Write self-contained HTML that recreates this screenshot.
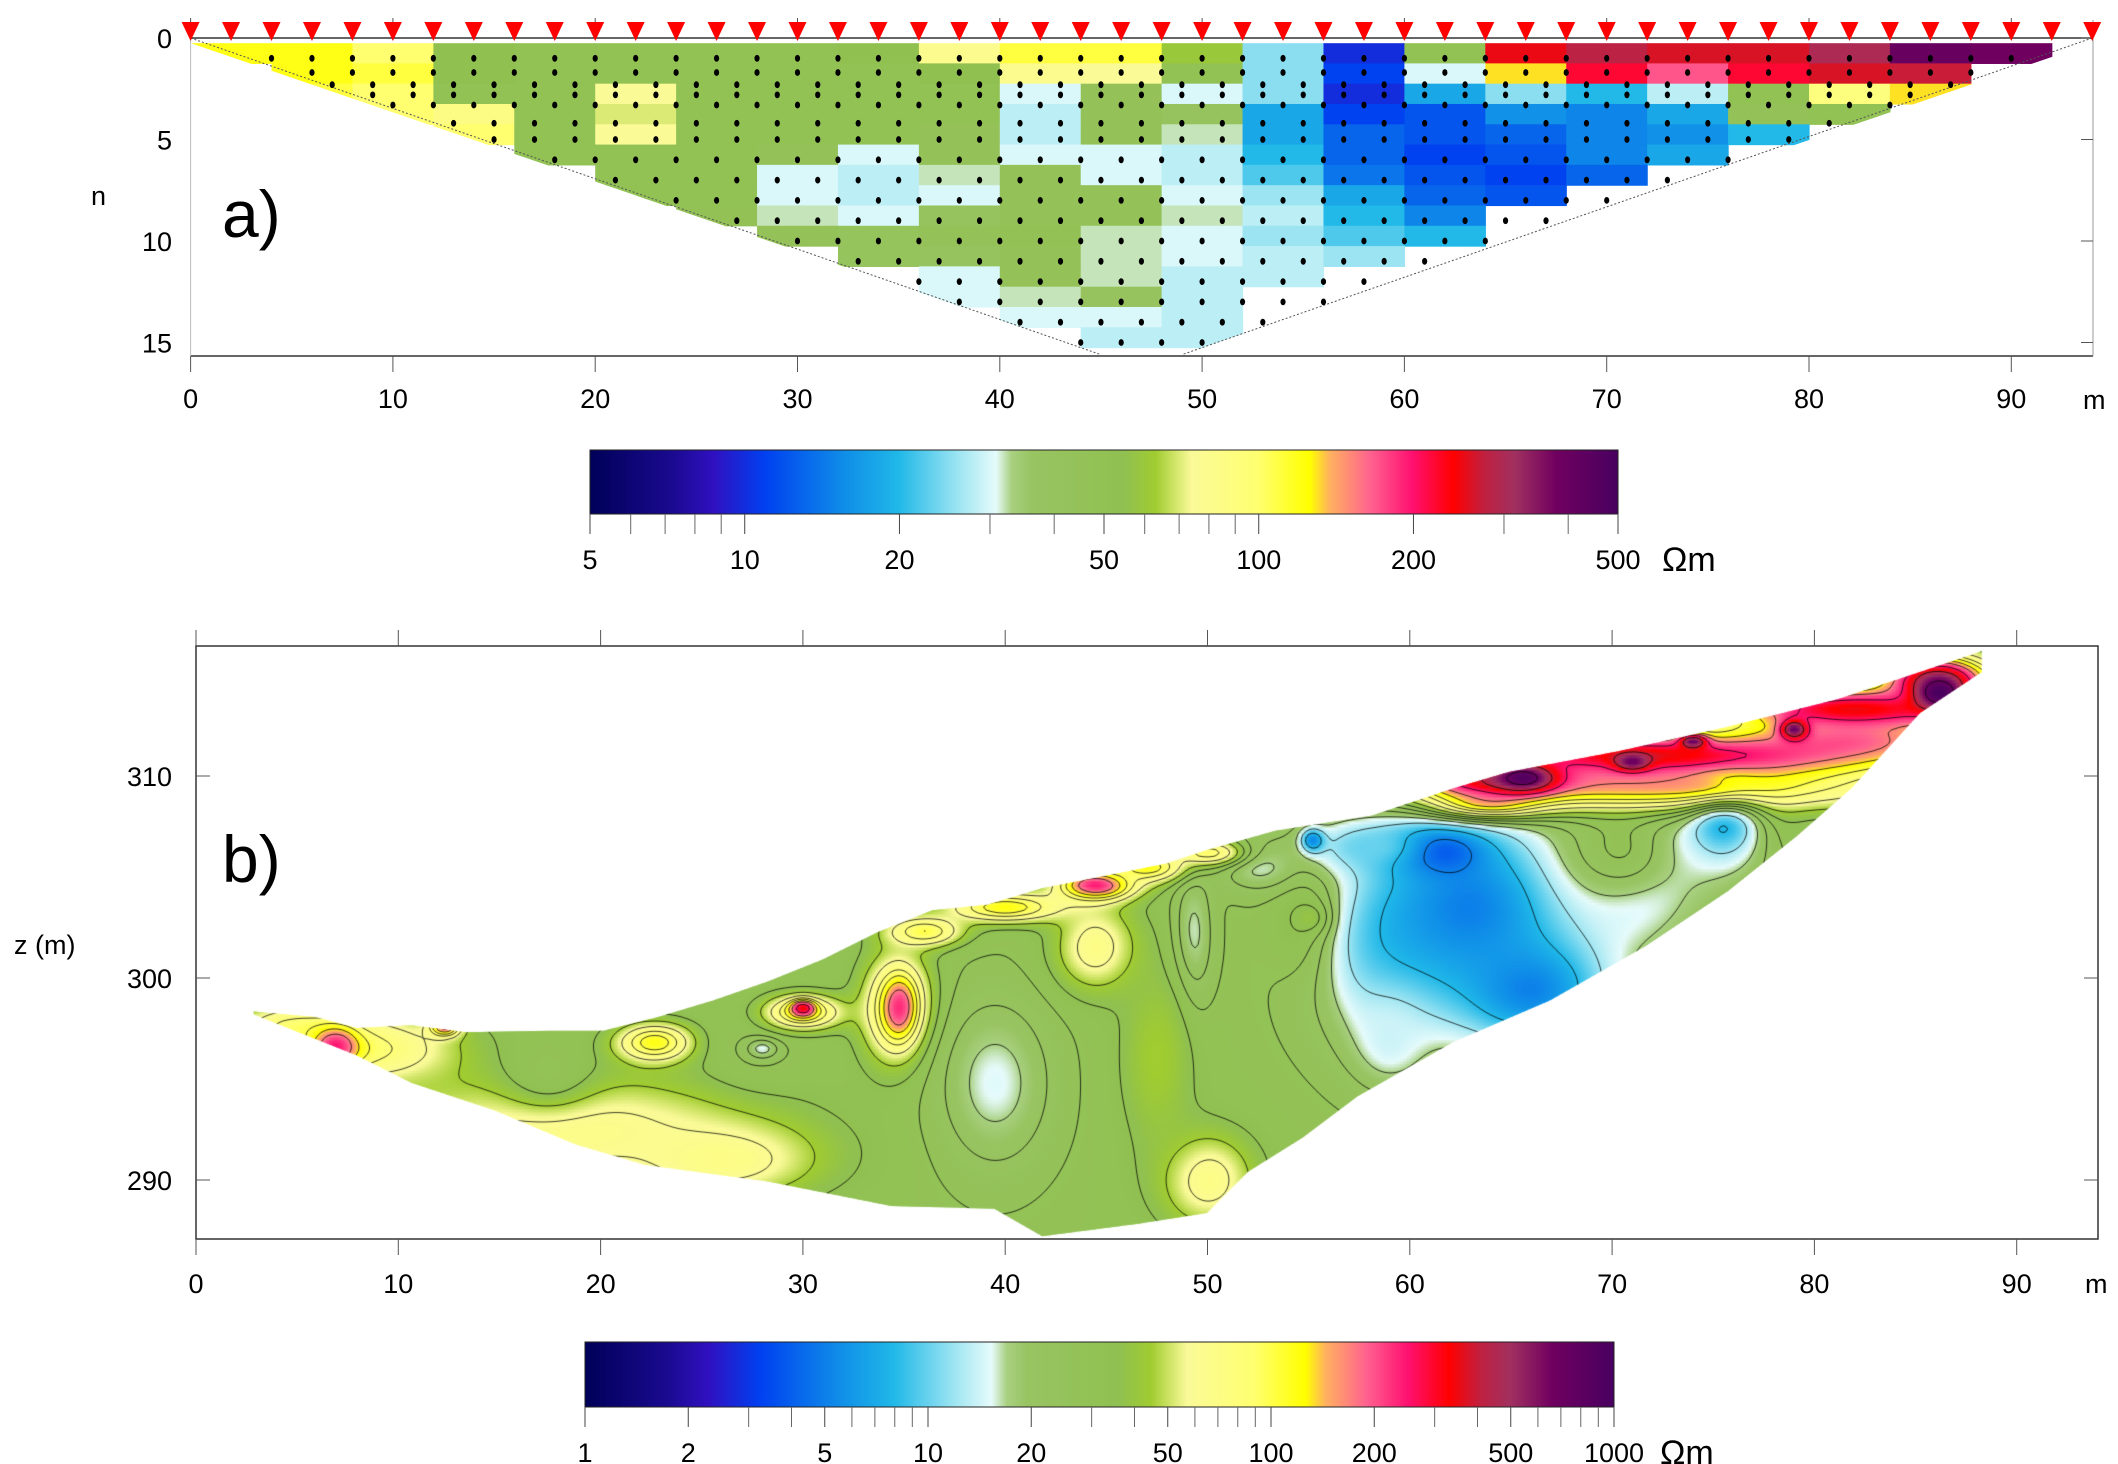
<!DOCTYPE html>
<html><head><meta charset="utf-8">
<style>
html,body{margin:0;padding:0;background:#fff;}
#wrap{position:relative;width:2118px;height:1464px;overflow:hidden;font-family:"Liberation Sans",sans-serif;}
#fieldB{position:absolute;left:0;top:0;}
#svg{position:absolute;left:0;top:0;}
</style></head>
<body>
<div id="wrap">
<canvas id="fieldB" width="2118" height="1464"></canvas>
<svg id="svg" width="2118" height="1464" xmlns="http://www.w3.org/2000/svg"></svg>
</div>
<script>
// ---------- DATA: panel a (apparent resistivity pseudosection) ----------
const colXa = [2,6,10,14,18,22,26,30,34,38,42,46,50,54,58,62,66,70,74,78,82,86,90];
const rowN1 = [120,120,100,55,50,50,50,50,55,80,110,110,60,25,10,50,250,280,260,260,300,400,380];
const rowN2 = [null,120,110,55,50,50,50,50,50,55,80,75,50,25,11,30,130,220,170,220,260,270,null];
const rowN3 = [null,110,100,50,50,75,50,50,50,50,30,45,30,25,10,18,25,20,28,50,90,130,null];
const rowN4 = [null,null,100,85,50,70,50,50,50,50,28,45,40,18,11,12,16,15,18,45,50,null,null];
const rowN5 = [null,null,null,100,50,75,50,50,50,45,28,45,32,18,13,12,13,15,16,20,null,null,null];
const rowN6 = [null,null,null,null,50,50,50,45,30,45,30,30,28,20,13,11,12,15,18,null,null,null,null];
const rowN7 = [null,null,null,null,null,50,50,30,28,32,45,30,28,22,14,12,11,13,null,null,null,null,null];
const rowN8 = [null,null,null,null,null,50,50,30,28,30,45,45,30,26,18,13,12,null,null,null,null,null,null];
const rowN9 = [null,null,null,null,null,null,48,32,30,40,45,45,32,28,20,15,null,null,null,null,null,null,null];
const rowN10 = [null,null,null,null,null,null,null,45,42,45,48,32,30,26,22,20,null,null,null,null,null,null,null];
const rowN11 = [null,null,null,null,null,null,null,null,42,40,45,32,30,28,26,null,null,null,null,null,null,null,null];
const rowN12 = [null,null,null,null,null,null,null,null,null,30,45,32,28,28,null,null,null,null,null,null,null,null,null];
const rowN13 = [null,null,null,null,null,null,null,null,null,30,32,40,28,null,null,null,null,null,null,null,null,null,null];
const rowN14 = [null,null,null,null,null,null,null,null,null,null,30,30,28,null,null,null,null,null,null,null,null,null,null];
const rowN15 = [null,null,null,null,null,null,null,null,null,null,null,28,28,null,null,null,null,null,null,null,null,null,null];
const rowsA = [rowN1,rowN2,rowN3,rowN4,rowN5,rowN6,rowN7,rowN8,rowN9,rowN10,rowN11,rowN12,rowN13,rowN14,rowN15];
const dotRowsN = [1,1.7,2.3,2.8,3.3,4.2,5,6,7,8,9,10,11,12,13,14,15];
const xTicksA = [0,10,20,30,40,50,60,70,80,90];
const nTicksA = [0,5,10,15];
const barTicksA = [5,10,20,50,100,200,500];
const barMinorA = [6,7,8,9,30,40,60,70,80,90,300,400];

// ---------- DATA: panel b (inverted model) ----------
const topX = [2.85,5.9,7.93,10.64,13.36,17.42,20.14,22.85,25.56,28.27,30.98,33.69,36.41,39.12,41.83,44.54,47.93,49.97,53.36,58.1,62.17,64.88,70.31,75.73,81.15,85.22,88.27];
const topZ = [298.34,298.07,297.53,297.66,297.32,297.39,297.39,298.07,298.88,299.83,300.92,302.27,303.36,303.63,304.44,304.98,305.66,306.34,307.29,308.03,309.39,310.2,311.22,312.44,313.8,315.15,316.17];
const botX = [88.27,85.22,81.83,79.12,75.73,71.66,66.92,62.17,57.42,54.71,52.0,49.97,46.58,41.83,39.46,34.37,28.27,22.17,18.78,14.71,10.64,7.93,4.54,2.85];
const botZ = [315.15,313.12,309.39,307.02,304.31,301.59,298.88,296.85,294.14,292.1,290.41,288.37,287.83,287.22,288.58,288.71,289.93,290.75,291.76,293.46,294.81,296.17,297.53,298.2];
const baseRes = 30;
// anomaly bodies: centre x, centre z, half-width, half-height, resistivity
const anomX = [18,8,26,5,17.4,22.7,27.9,28,30,30,34.7,34.8,39.5,44.5,55.4,55.6,50,49.3,47.5,
  59,63,66,61,58,59,55.2,52.5,71,70.5,75.5,75.5,79,
  36,40,44.5,47,50,
  72,82,64,72,82,86,64,65.6,86.2,71,79,74,6.9,12.3];
const anomZ = [292.5,296.5,291,297.5,295.5,296.8,296.4,296.5,298.3,298.5,298.5,298.5,294.8,301.5,302.8,302.9,290,302,296,
  301,303.5,299.5,306.3,306.5,297,306.8,305.6,305,306.5,308,308.8,307.5,
  302.3,303.5,304.6,305.5,306.2,
  309.4,311.7,308.7,311,313.3,314.8,309.8,309.9,314.1,310.7,312.3,311.7,296.6,297.6];
const anomRX = [10,5,5,3,2.5,2,2.5,0.8,2,0.6,1.8,0.8,3,2.2,2,0.8,2.5,1,2,
  4,6,4,2.5,3.5,2,0.6,2,4,3,3,1.5,1.5,
  2,3,2,2,2,
  12,6,3,12,7,3,4,1.6,1.4,0.9,0.7,0.7,1.2,0.8];
const anomRZ = [3,1.8,2,1.2,2,1,1.8,0.5,0.9,0.4,2.8,1.4,4.5,2.3,3,0.8,2.5,3.5,5,
  5,5,3,1.2,1.5,2.5,0.6,1.3,4,2.5,3.5,2,3,
  0.8,0.8,0.8,0.8,0.7,
  1.3,1.2,0.8,1.3,1.2,1.3,0.9,0.7,1,0.45,0.5,0.35,1,0.5];
const anomV = [70,90,70,90,28,120,28,15,120,350,120,250,15,70,75,130,70,15,45,
  12,5,5,2.5,10,14,5,15,12,30,12,4,30,
  100,120,250,120,90,
  130,130,130,350,350,350,350,900,1000,700,700,700,250,200];
const xTicksB = [0,10,20,30,40,50,60,70,80,90];
const zTicksB = [290,300,310];
const barTicksB = [1,2,5,10,20,50,100,200,500,1000];
const barMinorB = [3,4,6,7,8,9,30,40,60,70,80,90,300,400,600,700,800,900];
const contourLevels = [3,5,8,12,17,22,28,35,45,60,80,100,130,170,250,400,700];

// ---------- helpers ----------
const NS = 'http://www.w3.org/2000/svg';
const svg = document.getElementById('svg');
function mk(tag, attrs, parent){
  const e = document.createElementNS(NS, tag);
  for (const k in attrs) e.setAttribute(k, attrs[k]);
  (parent||svg).appendChild(e); return e;
}
const stops = [[0,'#000058'],[0.08,'#1a0a90'],[0.12,'#3010c0'],[0.17,'#0040f0'],[0.25,'#1090e8'],[0.3,'#20b8e8'],[0.36,'#a0e6f2'],[0.395,'#e6fbfb'],[0.41,'#a8d080'],[0.43,'#98c462'],[0.52,'#90c050'],[0.55,'#a0cc30'],[0.585,'#fafa98'],[0.65,'#ffff70'],[0.7,'#ffff00'],[0.72,'#ffb060'],[0.76,'#ff6090'],[0.8,'#ff1070'],[0.84,'#ff0000'],[0.87,'#c02040'],[0.9,'#a03060'],[0.94,'#700060'],[1,'#480060']];
const stopRGB = stops.map(s=>[s[0],parseInt(s[1].slice(1,3),16),parseInt(s[1].slice(3,5),16),parseInt(s[1].slice(5,7),16)]);
function cmap(f){
  f = Math.max(0,Math.min(1,f));
  for (let i=1;i<stopRGB.length;i++){
    if (f<=stopRGB[i][0]){
      const a=stopRGB[i-1], b=stopRGB[i], t=(f-a[0])/(b[0]-a[0]||1);
      return [a[1]+(b[1]-a[1])*t, a[2]+(b[2]-a[2])*t, a[3]+(b[3]-a[3])*t];
    }
  }
  return stopRGB[stopRGB.length-1].slice(1);
}
function rgb(c){return 'rgb('+c.map(Math.round).join(',')+')';}

// axis functions
const xA = m => 190.6 + m*20.23;
const yA = n => 38 + n*20.3;
const fracA = v => Math.log(v/5)/Math.log(100);
const xB = m => 196 + m*20.23;
const yB = z => 776 - (z-310)*20.2;
const fracB = v => Math.log10(v)/3;

// ---------- panel a ----------
const gA = mk('g',{});  
const defs = mk('defs',{});
const cp = mk('clipPath',{id:'triA'},defs);
mk('polygon',{points:[xA(0),yA(0.25),xA(94),yA(0.25),xA(49),yA(15.6),xA(45),yA(15.6)].reduce((s,v,i)=>s+(i%2?','+v+' ':v),'')},cp);
const cells = mk('g',{'clip-path':'url(#triA)'},gA);
rowsA.forEach((row,ri)=>{
  const n = ri+1;
  row.forEach((v,ci)=>{
    if (v==null) return;
    const x0 = colXa[ci]-2;
    const r = mk('rect',{x:xA(x0),y:yA(n-0.75),width:xA(4)-xA(0)+0.6,height:yA(1)-yA(0)+0.6,fill:rgb(cmap(fracA(v)))},cells);
    
    
  });
});
mk('line',{x1:xA(0),y1:yA(0),x2:xA(45),y2:yA(15.6),stroke:'#555','stroke-width':1,'stroke-dasharray':'2,2'},gA);
mk('line',{x1:xA(94),y1:yA(0),x2:xA(49),y2:yA(15.6),stroke:'#555','stroke-width':1,'stroke-dasharray':'2,2'},gA);
dotRowsN.forEach(n=>{
  const left = n*2.9+0.3, right = 94-n*2.9-0.3;
  for (let x = Math.ceil(left); x<=right; x+=2){
    const d = mk('ellipse',{cx:xA(x),cy:yA(n),rx:2.6,ry:3.4,fill:'#000'},gA);
    
    
  }
});
mk('line',{x1:xA(0),y1:yA(0),x2:2093,y2:yA(0),stroke:'#333','stroke-width':1.5},gA);
mk('line',{x1:xA(0),y1:356,x2:2093,y2:356,stroke:'#333','stroke-width':1.5},gA);
mk('line',{x1:2093,y1:20,x2:2093,y2:356,stroke:'#999','stroke-width':1},gA);
mk('line',{x1:xA(0),y1:20,x2:xA(0),y2:356,stroke:'#bbb','stroke-width':1},gA);
xTicksA.forEach(t=>{
  mk('line',{x1:xA(t),y1:18,x2:xA(t),y2:38,stroke:'#555','stroke-width':1},gA);
  mk('line',{x1:xA(t),y1:356,x2:xA(t),y2:372,stroke:'#555','stroke-width':1},gA);
  const tx = mk('text',{x:xA(t),y:408,'font-size':27,'text-anchor':'middle',fill:'#000'},gA);
  tx.textContent = t;
  
  
});
const mA = mk('text',{x:2083,y:409,'font-size':27,fill:'#000'},gA); mA.textContent='m';
 
nTicksA.forEach(t=>{
  const tx = mk('text',{x:172,y:yA(t)+10,'font-size':27,'text-anchor':'end',fill:'#000'},gA);
  tx.textContent = t;
  
  
  mk('line',{x1:2081,y1:yA(t),x2:2093,y2:yA(t),stroke:'#555','stroke-width':1},gA);
});
const nl = mk('text',{x:91,y:205,'font-size':27,fill:'#000'},gA); nl.textContent='n';
 
const la = mk('text',{x:222,y:237,'font-size':66,fill:'#000'},gA); la.textContent='a)';
 
for (let x=0; x<=94; x+=2){
  const e = mk('polygon',{points:(xA(x)-9)+','+22+' '+(xA(x)+9)+','+22+' '+xA(x)+','+41,fill:'#ff0000'},gA);
  
  
}

// ---------- colour bars ----------
function colorBar(x0,x1,y0,y1,fr,majors,minors,name,unitX){
  const g = mk('g',{});  
  const gid = name+'-grad';
  const lg = mk('linearGradient',{id:gid,x1:0,y1:0,x2:1,y2:0},defs);
  stops.forEach(s=>mk('stop',{offset:s[0],'stop-color':s[1]},lg));
  mk('rect',{x:x0,y:y0,width:x1-x0,height:y1-y0,fill:'url(#'+gid+')',stroke:'#222','stroke-width':1},g);
  const X = v => x0 + fr(v)*(x1-x0);
  minors.forEach(v=>mk('line',{x1:X(v),y1:y1,x2:X(v),y2:y1+20,stroke:'#666','stroke-width':1},g));
  majors.forEach(v=>{
    mk('line',{x1:X(v),y1:y1,x2:X(v),y2:y1+20,stroke:'#444','stroke-width':1},g);
    const t = mk('text',{x:X(v),y:y1+55,'font-size':27,'text-anchor':'middle',fill:'#000'},g);
    t.textContent = v;
    
    
  });
  const u = mk('text',{x:unitX,y:y1+57,'font-size':34,fill:'#000'},g); u.textContent='Ωm';
   
}
colorBar(590,1618,450,514,fracA,barTicksA,barMinorA,'colorbar-a',1662);
colorBar(585,1614,1342,1407,fracB,barTicksB,barMinorB,'colorbar-b',1660);

// ---------- panel b ----------
const gB = mk('g',{});  
mk('rect',{x:196,y:646,width:1902,height:593,fill:'none',stroke:'#333','stroke-width':1.5},gB);
xTicksB.forEach(t=>{
  mk('line',{x1:xB(t),y1:630,x2:xB(t),y2:646,stroke:'#555','stroke-width':1},gB);
  mk('line',{x1:xB(t),y1:1239,x2:xB(t),y2:1255,stroke:'#555','stroke-width':1},gB);
  const tx = mk('text',{x:xB(t),y:1293,'font-size':27,'text-anchor':'middle',fill:'#000'},gB);
  tx.textContent = t;
  
  
});
const mB = mk('text',{x:2085,y:1293,'font-size':27,fill:'#000'},gB); mB.textContent='m';
 
zTicksB.forEach(t=>{
  mk('line',{x1:196,y1:yB(t),x2:210,y2:yB(t),stroke:'#555','stroke-width':1},gB);
  mk('line',{x1:2084,y1:yB(t),x2:2098,y2:yB(t),stroke:'#555','stroke-width':1},gB);
  const tx = mk('text',{x:172,y:yB(t)+10,'font-size':27,'text-anchor':'end',fill:'#000'},gB);
  tx.textContent = t;
  
  
});
const zl = mk('text',{x:14,y:954,'font-size':27,fill:'#000'},gB); zl.textContent='z (m)';
 
const lb = mk('text',{x:222,y:882,'font-size':66,fill:'#000'},gB); lb.textContent='b)';
 

const cv = document.getElementById('fieldB');
const ctx = cv.getContext('2d');
ctx.save();
ctx.beginPath();
topX.forEach((x,i)=>{ i?ctx.lineTo(xB(x),yB(topZ[i])):ctx.moveTo(xB(x),yB(topZ[i])); });
botX.forEach((x,i)=>ctx.lineTo(xB(x),yB(botZ[i])));
ctx.closePath();
ctx.clip();
const lAnom = anomV.map(v=>Math.log10(v));
function field(m,z){
  let lv = Math.log10(baseRes);
  for (let i=0;i<anomX.length;i++){
    const dx=(m-anomX[i])/anomRX[i], dz=(z-anomZ[i])/anomRZ[i];
    const d2=dx*dx+dz*dz;
    if (d2>12) continue;
    const w=Math.exp(-d2*1.1);
    lv += w*(lAnom[i]-lv);
  }
  return lv;
}
const STEP=3, X0=196, Y0=646, W=1902, H=593;
const nx=Math.ceil(W/STEP)+1, ny=Math.ceil(H/STEP)+1;
const grid=new Float32Array(nx*ny);
for (let j=0;j<ny;j++){
  const py=Y0+j*STEP, z=310-(py-776)/20.2;
  for (let i=0;i<nx;i++){
    const px=X0+i*STEP, m=(px-196)/20.23;
    grid[j*nx+i]=field(m,z);
  }
}
for (let j=0;j<ny;j++) for (let i=0;i<nx;i++){
  ctx.fillStyle=rgb(cmap(grid[j*nx+i]/3));
  ctx.fillRect(X0+i*STEP-STEP/2,Y0+j*STEP-STEP/2,STEP+1,STEP+1);
}
ctx.strokeStyle='rgba(0,0,0,0.75)'; ctx.lineWidth=1;
contourLevels.forEach(L=>{
  const lv=Math.log10(L);
  ctx.beginPath();
  for (let j=0;j<ny-1;j++) for (let i=0;i<nx-1;i++){
    const a=grid[j*nx+i], b=grid[j*nx+i+1], c=grid[(j+1)*nx+i+1], d=grid[(j+1)*nx+i];
    const px=X0+i*STEP, py=Y0+j*STEP, pts=[];
    if ((a-lv)*(b-lv)<0) pts.push([px+STEP*(lv-a)/(b-a),py]);
    if ((b-lv)*(c-lv)<0) pts.push([px+STEP,py+STEP*(lv-b)/(c-b)]);
    if ((c-lv)*(d-lv)<0) pts.push([px+STEP*(1-(lv-c)/(d-c)),py+STEP]);
    if ((d-lv)*(a-lv)<0) pts.push([px,py+STEP*(1-(lv-d)/(a-d))]);
    for (let k=0;k+1<pts.length;k+=2){ctx.moveTo(pts[k][0],pts[k][1]);ctx.lineTo(pts[k+1][0],pts[k+1][1]);}
  }
  ctx.stroke();
});
ctx.restore();
</script>
</body></html>
